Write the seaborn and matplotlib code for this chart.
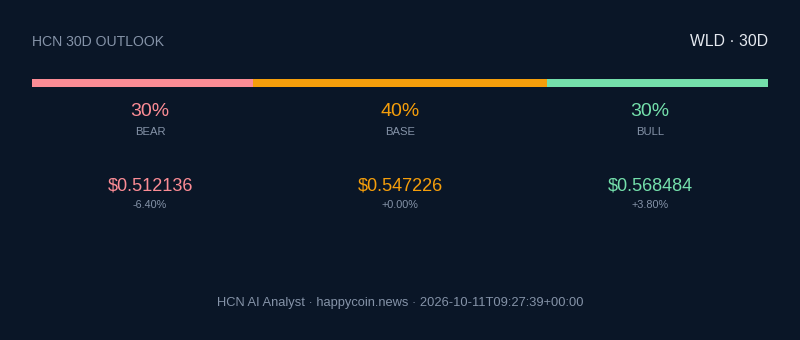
import matplotlib
matplotlib.use("Agg")
import matplotlib.pyplot as plt
import seaborn as sns

# Data
scenarios = ["BEAR", "BASE", "BULL"]
probabilities = [30, 40, 30]
prices = ["$0.512136", "$0.547226", "$0.568484"]
changes = ["-6.40%", "+0.00%", "+3.80%"]
title = "HCN 30D OUTLOOK"
badge = "WLD · 30D"
footer = "HCN AI Analyst · happycoin.news · 2026-10-11T09:27:39+00:00"

BG = "#0a1627"
colors = ["#fb8c95", "#f59e0b", "#74dfab"]
GREY = "#8593a8"

sns.set_theme(style="white")
plt.rcParams["font.family"] = ["Liberation Sans", "DejaVu Sans"]

fig = plt.figure(figsize=(8, 3.4), dpi=100, facecolor=BG)
ax = fig.add_axes([0, 0, 1, 1])
ax.set_xlim(0, 800)
ax.set_ylim(340, 0)
ax.set_facecolor(BG)
ax.axis("off")

# stacked bar
bax = fig.add_axes([32 / 800, (340 - 87) / 340, 736 / 800, 8 / 340])
cum = []
s = 0
for p in probabilities:
    s += p
    cum.append(s)
for c, col in reversed(list(zip(cum, colors))):
    sns.barplot(x=[c], y=["p"], color=col, width=1.0, orient="h",
                ax=bax, linewidth=0, saturation=1)
bax.set_xlim(0, sum(probabilities))
bax.set_ylim(0.5, -0.5)
bax.axis("off")

ax.text(32, 41.5, title, color=GREY, fontsize=10.1, ha="left", va="center")
ax.text(768, 41.5, badge, color="#e5e9f0", fontsize=11.3, ha="right", va="center")

centers = [150, 400, 650]
for x, sc, p, pr, ch, col in zip(centers, scenarios, probabilities, prices, changes, colors):
    ax.text(x, 112, f"{p}%", color=col, fontsize=14, ha="center", va="center")
    ax.text(x, 132, sc, color=GREY, fontsize=8.1, ha="center", va="center")
    ax.text(x, 186, pr, color=col, fontsize=13.1, ha="center", va="center")
    ax.text(x, 205, ch, color=GREY, fontsize=7.8, ha="center", va="center")

ax.text(400, 303, footer, color=GREY, fontsize=9.3, ha="center", va="center")

fig.savefig("out.png", dpi=100, facecolor=BG)
